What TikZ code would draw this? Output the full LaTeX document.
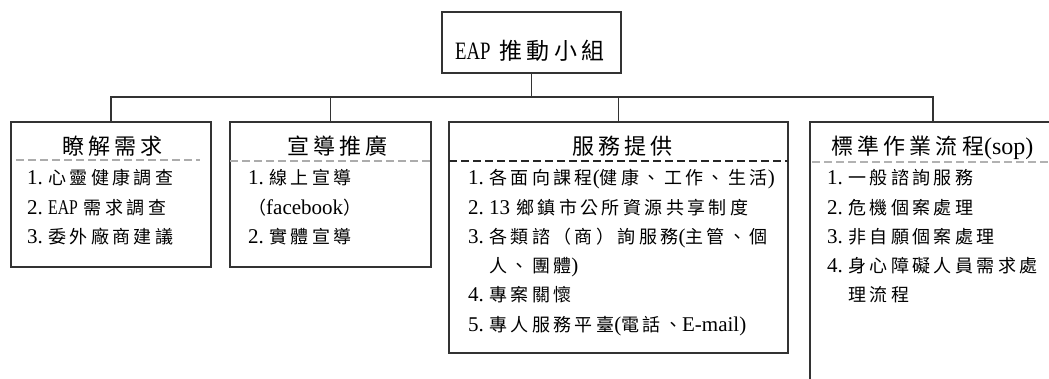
\documentclass[tikz,border=0pt]{standalone}
\usepackage{fontspec}
\setmainfont{Liberation Serif}
\newfontfamily\latn[FakeStretch=0.75]{Liberation Serif}
\newfontfamily\cjk[LetterSpace=19]{Noto Sans CJK TC}
\newcommand\ltxt[1]{{\rmfamily\fontsize{21}{21}\selectfont #1}}
\newcommand\inum[1]{\makebox[21pt][l]{\ltxt{#1}}}
\newcommand\eapx[1]{{\latn\fontsize{21}{21}\selectfont #1}}
\tikzset{
  box/.style={draw=black!80, line width=1.2pt, rectangle, inner sep=0pt},
  conn/.style={draw=black!80, line width=1.2pt},
  hdash/.style={line width=1.1pt, dash pattern=on 8pt off 4pt},
  itm/.style={anchor=base west, inner sep=0pt, font=\cjk\fontsize{18}{18}\selectfont},
  hdr/.style={anchor=base west, inner sep=0pt, font=\cjk\fontsize{22}{22}\selectfont},
}
\begin{document}
\begin{tikzpicture}[x=1pt,y=-1pt]
\useasboundingbox (0,0) rectangle (1049,379);
\fill[white] (0,0) rectangle (1049,379);
\clip (0,0) rectangle (1049,379);
% boxes
\node[box, minimum width=179pt, minimum height=61pt] (top) at (531.5,42.5) {};
\node[box, minimum width=200pt, minimum height=145pt] (b1) at (111,194.5) {};
\node[box, minimum width=201pt, minimum height=145pt] (b2) at (330.5,194.5) {};
\node[box, minimum width=339pt, minimum height=231pt] (b3) at (618.5,237.5) {};
\node[box, minimum width=246pt, minimum height=298pt] (b4) at (933,271) {};
% connectors
\coordinate (bus) at (0,97);
\draw[conn] (top.south) -- (top.south |- bus);
\draw[conn] (b1.north) |- (b4.north |- bus) -- (b4.north);
\draw[conn] (b2.north) -- (b2.north |- bus);
\draw[conn] (b3.north) -- (b3.north |- bus);
% dashed header rules
\draw[hdash, gray!65] (16,160) -- (200,160);
\draw[hdash, gray!65] (230,161) -- (431,161);
\draw[hdash, black!85] (449,161) -- (788,161);
\draw[hdash, gray!60] (812,162) -- (1049,162);
% top text
\node[anchor=base west, inner sep=0pt, font=\cjk] (ttop) at (455,60) {{\latn\fontsize{25}{25}\selectfont EAP}\hspace{9pt}{\fontsize{23}{23}\selectfont 推動小組}};
% headers
\node[hdr] (h1) at (62,155) {瞭解需求};
\node[hdr] (h2) at (287,155) {宣導推廣};
\node[hdr] (h3) at (572,155) {服務提供};
\node[hdr] (h4) at (831,155) {標準作業流程{\rmfamily\fontsize{24}{24}\selectfont (sop)}};
% box 1 items
\node[itm] (a1) at (27,185) {\inum{1.}心靈健康調查};
\node[itm] (a2) at (27,214.2) {\inum{2.}\eapx{EAP}\hspace{6pt}需求調查};
\node[itm] (a3) at (27,243.4) {\inum{3.}委外廠商建議};
% box 2 items
\node[itm] (c1) at (248,185) {\inum{1.}線上宣導};
\node[itm] (c2) at (248,214.2) {（\ltxt{facebook}）};
\node[itm] (c3) at (248,243.4) {\inum{2.}實體宣導};
% box 3 items
\node[itm] (d1) at (468,185) {\inum{1.}各面向課程\ltxt{(}健康、工作、生活\ltxt{)}};
\node[itm] (d2) at (468,214.2) {\inum{2.}\ltxt{13}\hspace{6pt}鄉鎮市公所資源共享制度};
\node[itm] (d3) at (468,243.4) {\inum{3.}各類諮（商）詢服務\ltxt{(}主管、個};
\node[itm] (d3b) at (489,272.6) {人、團體\ltxt{)}};
\node[itm] (d4) at (468,301.8) {\inum{4.}專案關懷};
\node[itm] (d5) at (468,331) {\inum{5.}專人服務平臺\ltxt{(}電話、\ltxt{E-mail)}};
% box 4 items
\node[itm] (e1) at (827,185) {\inum{1.}一般諮詢服務};
\node[itm] (e2) at (827,214.2) {\inum{2.}危機個案處理};
\node[itm] (e3) at (827,243.4) {\inum{3.}非自願個案處理};
\node[itm] (e4) at (827,272.6) {\inum{4.}身心障礙人員需求處};
\node[itm] (e4b) at (848,301.8) {理流程};
\end{tikzpicture}
\end{document}
